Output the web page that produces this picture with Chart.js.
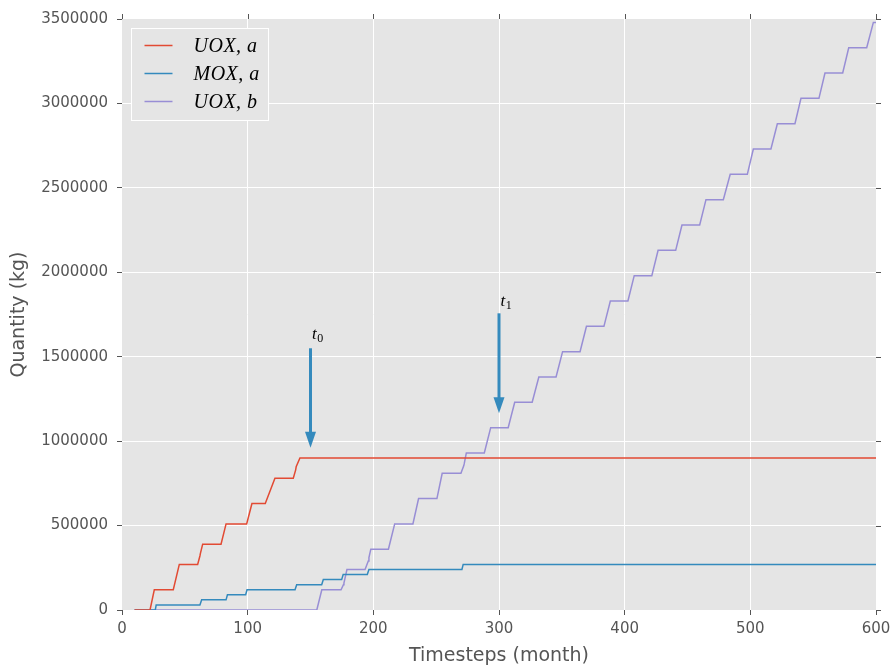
<!DOCTYPE html>
<html>
<head>
<meta charset="utf-8">
<script src="https://cdn.jsdelivr.net/npm/chart.js@4.4.0/dist/chart.umd.min.js"></script>
<style>
  html, body { margin: 0; padding: 0; background: #ffffff; }
  canvas { display: block; }
</style>
</head>
<body>
<canvas id="grafico" width="896" height="670"></canvas>
<script>
// Series: [month, kg]
var uoxA = [[10, 0], [22.3, 0], [25.7, 120000], [40.8, 120000], [45.6, 270000], [60.2, 270000],
	[62, 320000], [62.4, 335000], [64.2, 390000], [78.8, 390000], [82.8, 510000], [99.2, 510000],
	[103.4, 630000], [114, 630000], [121.7, 780000], [136.3, 780000], [138.2, 830000],
	[138.6, 848000], [141.6, 900000], [600, 900000]];

var moxA = [[10, 0], [26.5, 0], [27.2, 30000], [62, 30000], [63.4, 60000], [82.8, 60000],
	[83.9, 90000], [98.4, 90000], [99.5, 120000], [137.7, 120000], [139, 150000], [158.9, 150000],
	[160.2, 180000], [174.8, 180000], [176, 210000], [195.2, 210000], [196.5, 240000],
	[270.5, 240000], [271.5, 270000], [600, 270000]];

var uoxB = [[10, 0], [155, 0], [159, 120000], [174.3, 120000], [176.2, 150000], [176.6, 160000],
	[179, 240000], [193.4, 240000], [196, 290000], [196.5, 310000], [198, 360000], [212, 360000],
	[217, 510000], [231.5, 510000], [236, 660000], [250.6, 660000], [254.8, 810000],
	[269.7, 810000], [272, 855000], [272.3, 865000], [274, 930000], [288.3, 930000],
	[293.4, 1080000], [307.3, 1080000], [312.5, 1230000], [326.4, 1230000], [331.7, 1380000],
	[345.4, 1380000], [350.6, 1530000], [364.5, 1530000], [369.6, 1680000], [383.5, 1680000],
	[388.6, 1830000], [402.6, 1830000], [407.6, 1980000], [421.6, 1980000], [426.6, 2130000],
	[440.6, 2130000], [445.6, 2280000], [459.7, 2280000], [464.7, 2430000], [478.5, 2430000],
	[484, 2580000], [497.6, 2580000], [502.4, 2730000], [516.4, 2730000], [521.5, 2880000],
	[535.5, 2880000], [540.3, 3030000], [554.6, 3030000], [559.4, 3180000], [573.5, 3180000],
	[578.3, 3330000], [592.6, 3330000], [597.9, 3480000], [600, 3480000]];

var labels = ["UOX, a", "MOX, a", "UOX, b"];
var colors = ["#E24A33", "#348ABD", "#988ED5"];

// Ticks
var ticksX = [0, 100, 200, 300, 400, 500, 600];
var ticksY = [0, 500000, 1000000, 1500000, 2000000, 2500000, 3000000, 3500000];

// Arrows t0 / t1
var arrowX = [150, 300];
var arrowFrom = [1550000, 1757000];
var arrowTo = [961000, 1165000];
var arrowText = ["0", "1"];
var arrowTextY = [1605000, 1800000];

function toPoints(serie) {
	return serie.map(function (p) { return { x: p[0], y: p[1] }; });
}

// Gray panel behind the plot
var background = {
	id: "background",
	beforeDraw: function (chart) {
		var ctx = chart.ctx, a = chart.chartArea;
		ctx.save();
		ctx.fillStyle = "#E5E5E5";
		ctx.fillRect(a.left, a.top, a.right - a.left, a.bottom - a.top);
		ctx.restore();
	}
};

// Tick marks on top and right, arrows, legend
var extras = {
	id: "extras",
	afterDatasetsDraw: function (chart) {
		var ctx = chart.ctx, a = chart.chartArea;
		var xs = chart.scales.x, ys = chart.scales.y;
		ctx.save();

		// top / right ticks
		ctx.strokeStyle = "#555555";
		ctx.lineWidth = 1;
		ticksX.forEach(function (v) {
			var px = Math.round(xs.getPixelForValue(v)) + 0.5;
			ctx.beginPath();
			ctx.moveTo(px, a.top - 5);
			ctx.lineTo(px, a.top);
			ctx.stroke();
		});
		ticksY.forEach(function (v) {
			var py = Math.round(ys.getPixelForValue(v)) + 0.5;
			ctx.beginPath();
			ctx.moveTo(a.right, py);
			ctx.lineTo(a.right + 5, py);
			ctx.stroke();
		});

		// arrows
		for (var i = 0; i < arrowX.length; i++) {
			var px = xs.getPixelForValue(arrowX[i]);
			var y0 = ys.getPixelForValue(arrowFrom[i]);
			var y1 = ys.getPixelForValue(arrowTo[i]);
			ctx.strokeStyle = "#348ABD";
			ctx.fillStyle = "#348ABD";
			ctx.lineWidth = 3;
			ctx.beginPath();
			ctx.moveTo(px, y0);
			ctx.lineTo(px, y1 - 15);
			ctx.stroke();
			ctx.beginPath();
			ctx.moveTo(px - 5.5, y1 - 16);
			ctx.lineTo(px + 5.5, y1 - 16);
			ctx.lineTo(px, y1);
			ctx.closePath();
			ctx.fill();

			var ty = ys.getPixelForValue(arrowTextY[i]);
			ctx.fillStyle = "#000000";
			ctx.textBaseline = "alphabetic";
			ctx.textAlign = "left";
			ctx.font = "italic 17px 'Liberation Serif'";
			ctx.fillText("t", px + 1.5, ty);
			var w = ctx.measureText("t").width;
			ctx.font = "12px 'Liberation Serif'";
			ctx.fillText(arrowText[i], px + 2 + w, ty + 3);
		}

		// legend
		var lx = a.left + 9.5, ly = a.top + 9.5;
		ctx.fillStyle = "#E5E5E5";
		ctx.strokeStyle = "#ffffff";
		ctx.lineWidth = 1;
		ctx.fillRect(lx, ly, 137, 92);
		ctx.strokeRect(lx, ly, 137, 92);
		for (var j = 0; j < labels.length; j++) {
			var yy = ly + 17 + j * 28;
			ctx.strokeStyle = colors[j];
			ctx.lineWidth = 1.5;
			ctx.beginPath();
			ctx.moveTo(lx + 13, yy);
			ctx.lineTo(lx + 41, yy);
			ctx.stroke();
			ctx.fillStyle = "#000000";
			ctx.font = "italic 20px 'Liberation Serif'";
			ctx.textBaseline = "middle";
			ctx.letterSpacing = "0.5px";
			ctx.fillText(labels[j], lx + 62, yy + 1);
			ctx.letterSpacing = "0px";
		}
		ctx.restore();
	}
};

function edgeHidden(scaleMax) {
	return function (c) {
		if (c.tick && (c.tick.value === 0 || c.tick.value === scaleMax)) return "rgba(0,0,0,0)";
		return "#ffffff";
	};
}

var chart = new Chart(document.getElementById("grafico"), {
	type: "line",
	data: {
		datasets: [
			{ label: labels[0], data: toPoints(uoxA), borderColor: colors[0], backgroundColor: colors[0], clip: 0 },
			{ label: labels[1], data: toPoints(moxA), borderColor: colors[1], backgroundColor: colors[1], clip: 0 },
			{ label: labels[2], data: toPoints(uoxB), borderColor: colors[2], backgroundColor: colors[2], clip: 0 }
		]
	},
	options: {
		responsive: false,
		animation: false,
		devicePixelRatio: 1,
		layout: { padding: { top: 19, right: 20, left: 0, bottom: 0 } },
		elements: {
			line: { borderWidth: 1.5, tension: 0, fill: false },
			point: { radius: 0, hoverRadius: 0 }
		},
		plugins: {
			legend: { display: false },
			tooltip: { enabled: false }
		},
		scales: {
			x: {
				type: "linear",
				min: 0,
				max: 600,
				afterBuildTicks: function (s) { s.ticks = ticksX.map(function (v) { return { value: v }; }); },
				afterFit: function (s) { s.height = 60; },
				grid: { color: edgeHidden(600), lineWidth: 1, tickColor: "#555555", tickLength: 5 },
				border: { display: false },
				ticks: { color: "#555555", font: { family: "DejaVu Sans", size: 15 }, padding: 5, maxRotation: 0 },
				title: {
					display: true,
					text: "Timesteps (month)",
					color: "#555555",
					font: { family: "DejaVu Sans", size: 19 },
					padding: { top: 0, bottom: 3 }
				}
			},
			y: {
				type: "linear",
				min: 0,
				max: 3500000,
				afterBuildTicks: function (s) { s.ticks = ticksY.map(function (v) { return { value: v }; }); },
				afterFit: function (s) { s.width = 122; },
				grid: { color: edgeHidden(3500000), lineWidth: 1, tickColor: "#555555", tickLength: 5 },
				border: { display: false },
				ticks: {
					color: "#555555",
					font: { family: "DejaVu Sans", size: 15 },
					padding: 9,
					callback: function (v) { return String(v); }
				},
				title: {
					display: true,
					text: "Quantity (kg)",
					color: "#555555",
					font: { family: "DejaVu Sans", size: 19 },
					padding: { top: 8, bottom: 0 }
				}
			}
		}
	},
	plugins: [background, extras]
});
</script>
</body>
</html>
